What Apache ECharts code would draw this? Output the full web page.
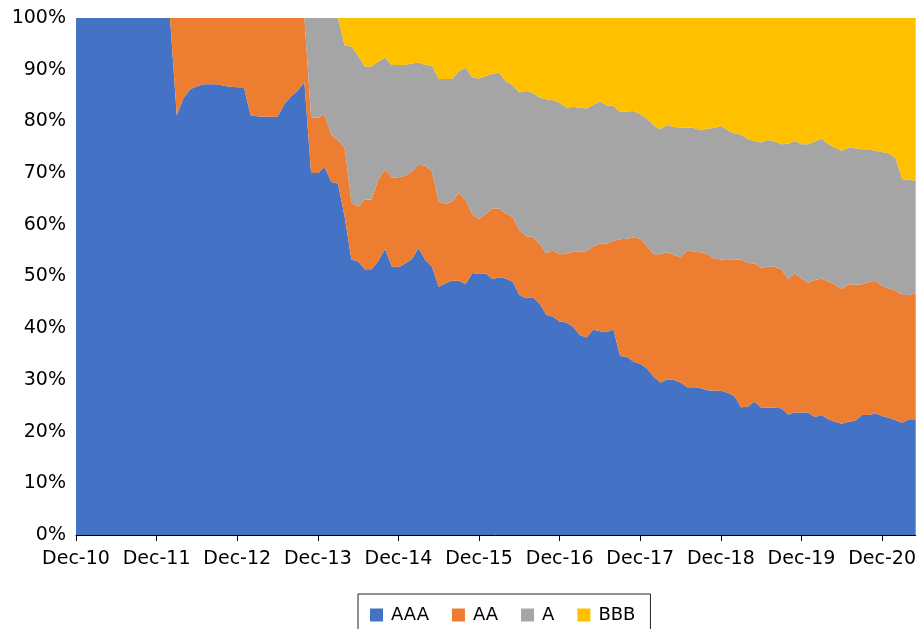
<!DOCTYPE html>
<html>
<head>
<meta charset="utf-8">
<script src="https://cdn.jsdelivr.net/npm/echarts@6/dist/echarts.min.js"></script>
<style>
  html, body { margin: 0; padding: 0; background: #fff; }
  #chart { width: 919px; height: 629px; }
</style>
</head>
<body>
<div id="chart"></div>
<script>
// monthly categories, Dec-10 .. May-21
const MONTHS = ['Jan', 'Feb', 'Mar', 'Apr', 'May', 'Jun', 'Jul', 'Aug', 'Sep', 'Oct', 'Nov', 'Dec']
const categories = []
for (let k = 0; k < 126; k++) {
  const m = (11 + k) % 12
  const y = 10 + Math.floor((11 + k) / 12)
  categories.push(MONTHS[m] + '-' + y)
}

const yTicks = [0, 10, 20, 30, 40, 50, 60, 70, 80, 90, 100]

// shares in %
const aaa = [
  100, 100, 100, 100, 100, 100, 100, 100, 100, 100, 100, 100,
  100, 100, 100, 81.2, 84.5, 86.2, 86.8, 87.2, 87.2, 87.2, 86.9, 86.7,
  86.6, 86.6, 81.2, 81.0, 80.9, 80.9, 80.9, 83.3, 84.8, 86.0, 87.6, 70.0,
  70.0, 71.2, 68.3, 68.0, 61.5, 53.3, 52.9, 51.4, 51.4, 53.0, 55.3, 52.0,
  51.8, 52.5, 53.4, 55.5, 53.2, 51.9, 48.0, 48.7, 49.2, 49.2, 48.5, 50.7,
  50.5, 50.6, 49.5, 49.8, 49.6, 49.0, 46.4, 45.8, 46.0, 44.8, 42.6, 42.2,
  41.3, 41.1, 40.3, 38.7, 38.2, 39.7, 39.4, 39.2, 39.8, 34.6, 34.5, 33.5,
  33.1, 32.2, 30.6, 29.5, 30.1, 30.0, 29.5, 28.6, 28.6, 28.4, 28.0, 27.9,
  27.9, 27.5, 26.9, 24.7, 24.8, 25.8, 24.6, 24.6, 24.6, 24.5, 23.3, 23.7,
  23.7, 23.7, 22.8, 23.2, 22.4, 21.9, 21.5, 21.9, 22.1, 23.2, 23.2, 23.5,
  23.0, 22.7, 22.2, 21.7, 22.4, 22.4
]
const aa = [
  0, 0, 0, 0, 0, 0, 0, 0, 0, 0, 0, 0,
  0, 0, 0, 18.8, 15.5, 13.8, 13.2, 12.8, 12.8, 12.8, 13.1, 13.3,
  13.4, 13.4, 18.8, 19.0, 19.1, 19.1, 19.1, 16.7, 15.2, 14.0, 12.4, 10.8,
  10.7, 10.2, 9.1, 8.4, 13.4, 11.0, 10.6, 13.5, 13.5, 15.7, 15.4, 17.1,
  17.4, 17.0, 16.9, 16.1, 18.2, 18.4, 16.5, 15.3, 15.3, 17.0, 16.3, 11.3,
  10.6, 11.5, 13.7, 13.3, 12.6, 12.5, 12.6, 12.0, 11.7, 11.6, 11.9, 12.9,
  13.0, 13.3, 14.5, 16.1, 16.7, 16.1, 17.0, 17.2, 17.1, 22.6, 22.8, 24.1,
  24.2, 23.6, 23.7, 24.8, 24.6, 24.2, 24.2, 26.5, 26.2, 26.3, 26.4, 25.6,
  25.4, 25.7, 26.4, 28.6, 27.8, 26.7, 27.1, 27.3, 27.3, 26.9, 26.2, 26.9,
  25.9, 25.1, 26.5, 26.4, 26.6, 26.5, 26.1, 26.6, 26.3, 25.3, 25.7, 25.7,
  25.2, 25.0, 25.1, 24.7, 24.0, 24.4
]
const a = [
  0, 0, 0, 0, 0, 0, 0, 0, 0, 0, 0, 0,
  0, 0, 0, 0, 0, 0, 0, 0, 0, 0, 0, 0,
  0, 0, 0, 0, 0, 0, 0, 0, 0, 0, 0, 19.2,
  19.3, 18.6, 22.6, 23.6, 19.8, 30.2, 29.2, 25.7, 25.7, 22.9, 21.6, 21.8,
  21.7, 21.4, 20.9, 19.8, 19.5, 20.5, 23.7, 24.2, 23.7, 23.5, 25.6, 26.5,
  27.2, 26.7, 26.0, 26.3, 25.5, 25.5, 26.6, 28.1, 27.8, 28.2, 29.8, 29.0,
  29.3, 28.3, 28.0, 27.9, 27.6, 27.4, 27.4, 26.7, 26.1, 24.6, 24.6, 24.4,
  24.1, 24.7, 24.9, 24.2, 24.6, 24.7, 25.1, 23.7, 23.9, 23.6, 24.2, 25.2,
  25.8, 25.1, 24.4, 24.1, 24.0, 23.7, 24.2, 24.5, 24.2, 24.2, 26.2, 25.6,
  26.0, 26.8, 26.8, 27.1, 26.6, 26.5, 26.7, 26.4, 26.4, 26.1, 25.7, 25.1,
  25.9, 26.1, 25.6, 22.4, 22.3, 21.7
]
const bbb = [
  0, 0, 0, 0, 0, 0, 0, 0, 0, 0, 0, 0,
  0, 0, 0, 0, 0, 0, 0, 0, 0, 0, 0, 0,
  0, 0, 0, 0, 0, 0, 0, 0, 0, 0, 0, 0,
  0, 0, 0, 0, 5.3, 5.5, 7.3, 9.4, 9.4, 8.4, 7.7, 9.1,
  9.1, 9.1, 8.8, 8.6, 9.1, 9.2, 11.8, 11.8, 11.8, 10.3, 9.6, 11.5,
  11.7, 11.2, 10.8, 10.6, 12.3, 13.0, 14.4, 14.1, 14.5, 15.4, 15.7, 15.9,
  16.4, 17.3, 17.2, 17.3, 17.5, 16.8, 16.2, 16.9, 17.0, 18.2, 18.1, 18.0,
  18.6, 19.5, 20.8, 21.5, 20.7, 21.1, 21.2, 21.2, 21.3, 21.7, 21.4, 21.3,
  20.9, 21.7, 22.3, 22.6, 23.4, 23.8, 24.1, 23.6, 23.9, 24.4, 24.3, 23.8,
  24.4, 24.4, 23.9, 23.3, 24.4, 25.1, 25.7, 25.1, 25.2, 25.4, 25.4, 25.7,
  25.9, 26.2, 27.1, 31.2, 31.3, 31.5
]

const FONT = 'DejaVu Sans'

function areaSeries (name, data, color) {
  return {
    name: name,
    type: 'line',
    stack: 'total',
    data: data,
    symbol: 'none',
    lineStyle: { width: 0 },
    areaStyle: { color: color, opacity: 1 },
    itemStyle: { color: color },
    emphasis: { disabled: true }
  }
}

const chart = echarts.init(document.getElementById('chart'), null, { renderer: 'canvas' })

chart.setOption({
  animation: false,
  grid: { left: 76, right: 0, top: 18, bottom: 94 },
  legend: {
    left: 358,
    top: 594,
    padding: [12, 15, 12, 12],
    borderColor: '#222',
    borderWidth: 1,
    itemWidth: 13,
    itemHeight: 13,
    itemGap: 23,
    icon: 'rect',
    textStyle: { fontFamily: FONT, fontSize: 18, color: '#000', padding: [0, 0, 0, 3] },
    data: ['AAA', 'AA', 'A', 'BBB']
  },
  xAxis: {
    type: 'category',
    boundaryGap: false,
    data: categories,
    axisLine: { lineStyle: { color: '#000', width: 1 } },
    axisTick: { interval: 11, length: 6, lineStyle: { color: '#000' } },
    axisLabel: {
      interval: 11,
      margin: 15,
      fontFamily: FONT,
      fontSize: 19,
      color: '#000'
    }
  },
  yAxis: {
    type: 'value',
    min: yTicks[0],
    max: yTicks[yTicks.length - 1],
    interval: 10,
    axisLine: { show: false },
    axisTick: { show: false },
    splitLine: { lineStyle: { color: '#d9d9d9', width: 1 } },
    axisLabel: {
      margin: 10,
      fontFamily: FONT,
      fontSize: 19,
      color: '#000',
      formatter: '{value}%'
    }
  },
  series: [
    areaSeries('AAA', aaa, '#4472C4'),
    areaSeries('AA', aa, '#ED7D31'),
    areaSeries('A', a, '#A5A5A5'),
    areaSeries('BBB', bbb, '#FFC000')
  ]
})
</script>
</body>
</html>
